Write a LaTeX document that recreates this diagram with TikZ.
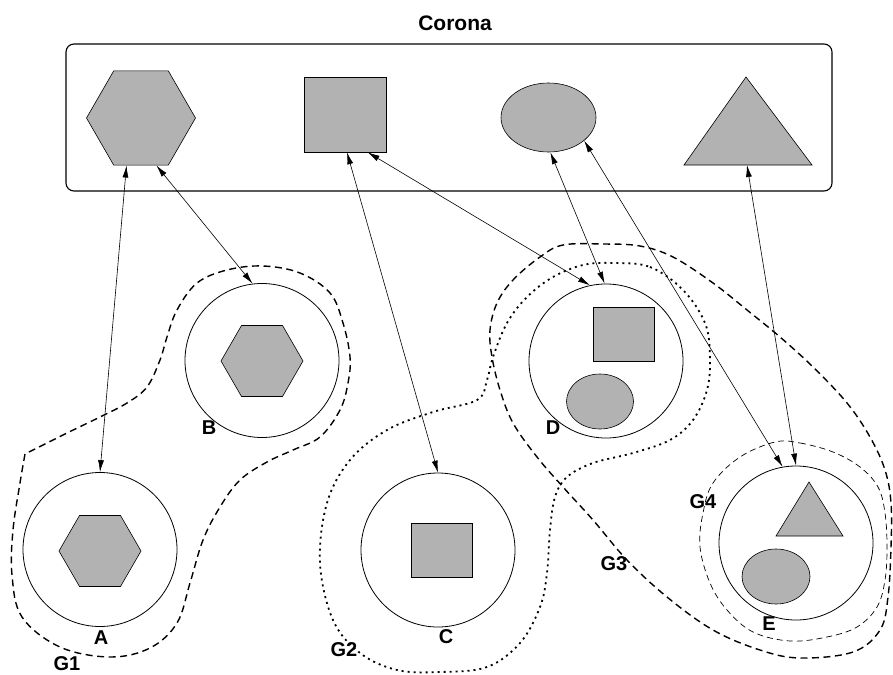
\documentclass[tikz,border=0pt]{standalone}
\usepackage{fontspec}
\setmainfont{Liberation Sans}
\usetikzlibrary{shapes.geometric,arrows.meta}
\definecolor{shapegray}{gray}{0.7}

\begin{document}
\begin{tikzpicture}[x=1pt,y=-1pt]
  \tikzstyle{cnode} = [draw, circle, line width=0.8pt, minimum size=154pt, inner sep=0pt]
  \tikzstyle{hexa} = [draw, fill=shapegray, regular polygon, regular polygon sides=6, inner sep=0pt, line width=0.6pt]
  \tikzstyle{sq} = [draw, fill=shapegray, rectangle, inner sep=0pt, line width=0.6pt]
  \tikzstyle{ell} = [draw, fill=shapegray, ellipse, inner sep=0pt, line width=0.6pt]
  \tikzstyle{tri} = [draw, fill=shapegray, line width=0.6pt]
  \tikzstyle{lbl} = [font=\bfseries\fontsize{20}{24}\selectfont, inner sep=0pt]
  \tikzstyle{link} = [{Latex[length=12pt,width=6pt]}-{Latex[length=12pt,width=6pt]}, line width=0.6pt]
  \tikzstyle{grpa} = [dash pattern=on 7pt off 4.5pt, line width=1.4pt]
  \tikzstyle{grpb} = [dash pattern=on 2pt off 4pt, line width=1.8pt]
  \tikzstyle{grpc} = [dash pattern=on 6pt off 4pt, line width=0.7pt]
  \useasboundingbox (0,0) rectangle (893,674);

  % corona
  \node[lbl, font=\bfseries\fontsize{21}{25}\selectfont] (title) at (455,23) {Corona};
  \draw[line width=1.1pt, rounded corners=8pt] (66,44) rectangle (832,191);
  \node[hexa, minimum size=109pt] (hexC) at (141,118) {};
  \node[sq, minimum width=82pt, minimum height=75pt] (sqC) at (345,114.5) {};
  \node[ell, minimum width=95pt, minimum height=69pt] (ellC) at (548.5,117.5) {};
  \draw[tri] (684,165) -- (746,77) -- (812,165) -- cycle;
  \coordinate (triC) at (747,165);

  % groups
  \draw[grpa] plot[smooth, tension=0.6] coordinates {(25,454) (20,483) (13,530) (12,575) (22,617)
    (60,647) (110,657) (150,648) (177,623) (190,583) (203,540) (220,507) (240,480)
    (267,462) (293,450) (320,437) (340,410) (348,383) (350,357) (343,323) (330,293)
    (300,273) (263,266) (227,270) (197,283) (177,310) (167,337) (160,360) (147,387)
    (127,403) (100,417) (67,433) (33,450) (25,454)};
  \draw[grpb] plot[smooth cycle, tension=0.6] coordinates {(613,263) (650,267) (683,290) (705,323)
    (710,357) (707,390) (693,420) (670,440) (633,453) (593,463) (567,477) (555,497)
    (550,530) (547,573) (540,607) (520,643) (487,667) (440,672) (397,670) (360,653)
    (333,620) (320,563) (327,503) (350,460) (387,430) (433,412) (477,400) (487,380)
    (493,357) (507,323) (527,297) (553,277) (583,265)};
  \draw[grpa] plot[smooth cycle, tension=0.6] coordinates {(563,245) (603,244) (640,246) (673,257)
    (713,283) (747,310) (780,337) (813,367) (847,403) (870,437) (885,470) (891,503)
    (891,547) (888,597) (880,630) (853,652) (800,658) (760,650) (713,630) (667,597)
    (627,560) (593,520) (563,487) (537,457) (513,423) (500,390) (492,357) (490,330)
    (497,303) (513,280) (540,257)};
  \draw[grpc] plot[smooth cycle, tension=0.6] coordinates {(775,442) (800,443) (833,452) (860,467)
    (878,487) (885,513) (887,547) (885,580) (877,607) (857,627) (827,637) (790,641)
    (753,632) (727,610) (710,583) (700,547) (703,513) (713,483) (740,457)};

  % nodes
  \node[cnode] (A) at (100,549.5) {};
  \node[cnode] (B) at (262,360.5) {};
  \node[cnode] (C) at (438,550) {};
  \node[cnode] (D) at (606,361) {};
  \node[cnode] (E) at (796,543) {};

  \node[hexa, minimum size=82pt] (hexA) at (100,551) {};
  \node[hexa, minimum size=82pt] (hexB) at (262,361) {};
  \node[sq, minimum width=61pt, minimum height=54pt] (sqC1) at (441.5,550) {};
  \node[sq, minimum width=61pt, minimum height=54pt] (sqD) at (623.5,334) {};
  \node[ell, minimum width=67pt, minimum height=55pt] (ellD) at (600,401.5) {};
  \node[ell, minimum width=68pt, minimum height=55pt] (ellE) at (776,576.5) {};
  \draw[tri] (776,536) -- (809,482) -- (843,536) -- cycle;

  % labels
  \node[lbl] (labA) at (101,638) {A};
  \node[lbl] (labB) at (209,428) {B};
  \node[lbl] (labC) at (446,637) {C};
  \node[lbl] (labD) at (553,428) {D};
  \node[lbl] (labE) at (769,624) {E};
  \node[lbl] (labG1) at (67,664) {G1};
  \node[lbl] (labG2) at (344,650) {G2};
  \node[lbl] (labG3) at (614,564) {G3};
  \node[lbl] (labG4) at (703,502) {G4};

  % links
  \draw[link] (hexC.253) -- (A.90);
  \draw[link] (hexC.288) -- (B.97);
  \draw[link] (sqC.273) -- (C.90);
  \draw[link] (sqC.301) -- (D.102);
  \draw[link] (ellC.273) -- (D.91);
  \draw[link] (ellC.327) -- (E.100);
  \draw[link] (triC) -- (E.90);
\end{tikzpicture}
\end{document}
